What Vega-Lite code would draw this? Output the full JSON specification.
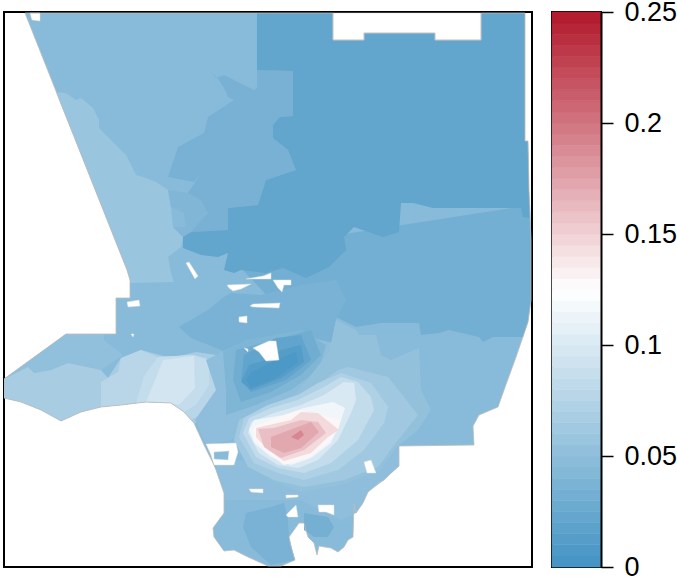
{"$schema":"https://vega.github.io/schema/vega-lite/v6.json","background":"white","padding":{"left":3,"top":-3,"right":0,"bottom":0},"spacing":17,"config":{"font":"Liberation Sans"},
"datasets":{
"zones":[
{"type":"Feature","properties":{"v":0.046},"geometry":{"type":"Polygon","coordinates":[[[24,13],[332,13],[332,40],[363,40],[363,33],[434,33],[434,40],[480,40],[480,13],[524,13],[524,141],[527,141],[528,190],[530,240],[530,300],[527,322],[515,357],[503,390],[497,407],[478,415],[472,426],[473,445],[398,446],[398,466],[390,473],[383,480],[377,483],[367,492],[362,503],[355,513],[353,503],[352,537],[347,540],[343,547],[337,552],[330,548],[318,546],[316,555],[313,543],[307,537],[303,523],[298,523],[288,537],[290,547],[294,560],[280,566],[267,566],[247,557],[233,550],[223,551],[213,537],[212,528],[223,513],[223,493],[215,470],[212,463],[203,445],[193,423],[183,412],[170,403],[145,402],[120,405],[100,407],[80,412],[60,421],[40,410],[20,402],[3,398],[3,379],[65,334],[115,334],[115,298],[129,298],[129,280],[126,270],[24,13]]]}},
{"type":"Feature","properties":{"v":0.058},"geometry":{"type":"Polygon","coordinates":[[[55,92],[65,93],[75,100],[80,98],[92,108],[98,120],[98,128],[110,140],[125,155],[135,175],[145,178],[155,182],[167,190],[170,207],[172,227],[182,237],[180,247],[167,257],[170,273],[173,282],[129,283],[129,280],[126,270],[55,92]]]}},
{"type":"Feature","properties":{"v":0.041},"geometry":{"type":"Polygon","coordinates":[[[167,190],[187,193],[200,200],[207,213],[190,232],[182,237],[172,227],[185,227],[183,213],[170,207],[167,190]]]}},
{"type":"Feature","properties":{"v":0.035},"geometry":{"type":"Polygon","coordinates":[[[210,72],[215,78],[223,75],[253,90],[256,88],[256,70],[292,71],[292,116],[279,117],[272,125],[272,138],[287,150],[295,170],[265,180],[257,205],[227,208],[227,230],[190,232],[207,213],[200,200],[187,193],[200,173],[193,182],[167,177],[177,147],[203,133],[207,117],[233,100],[227,97],[223,88],[218,80],[210,72]]]}},
{"type":"Feature","properties":{"v":0.032},"geometry":{"type":"Polygon","coordinates":[[[529,205],[530,240],[530,300],[527,322],[522,337],[492,337],[482,342],[478,337],[448,330],[438,333],[420,335],[418,323],[380,323],[355,327],[335,317],[330,345],[300,335],[270,300],[240,268],[305,240],[529,205]]]}},
{"type":"Feature","properties":{"v":0.036},"geometry":{"type":"Polygon","coordinates":[[[178,327],[207,310],[223,297],[230,293],[260,295],[300,285],[335,280],[345,300],[335,320],[330,345],[300,335],[240,345],[225,352],[208,345],[190,338],[178,327]]]}},
{"type":"Feature","properties":{"v":0.0205},"geometry":{"type":"Polygon","coordinates":[[[256,13],[524,13],[524,141],[527,141],[528,190],[529,218],[522,217],[520,208],[432,208],[412,203],[400,203],[398,232],[382,237],[353,227],[343,237],[345,250],[328,267],[305,278],[282,268],[265,273],[240,270],[233,273],[223,270],[227,253],[217,257],[200,255],[182,248],[182,237],[190,232],[227,230],[227,208],[257,205],[265,180],[295,170],[287,150],[272,138],[272,125],[279,117],[292,116],[292,71],[256,70],[256,13]]]}},
{"type":"Feature","properties":{"v":0.052},"geometry":{"type":"Polygon","coordinates":[[[3,379],[65,334],[103,334],[103,340],[122,355],[100,370],[67,363],[50,370],[33,373],[27,367],[3,379]]]}},
{"type":"Feature","properties":{"v":0.067},"geometry":{"type":"Polygon","coordinates":[[[3,398],[3,379],[27,367],[33,373],[50,370],[67,363],[100,370],[107,378],[120,358],[140,350],[170,358],[195,352],[215,355],[228,375],[220,420],[193,423],[183,412],[170,403],[145,402],[120,405],[100,407],[80,412],[60,421],[40,410],[20,402],[3,398]]]}},
{"type":"Feature","properties":{"v":0.078},"geometry":{"type":"Polygon","coordinates":[[[100,382],[117,372],[120,358],[140,350],[157,357],[192,355],[205,358],[215,375],[215,405],[190,420],[183,412],[170,403],[145,402],[120,405],[100,407],[100,382]]]}},
{"type":"Feature","properties":{"v":0.086},"geometry":{"type":"Polygon","coordinates":[[[143,376],[157,357],[192,355],[208,360],[208,385],[195,405],[183,412],[170,403],[145,402],[135,403],[143,376]]]}},
{"type":"Feature","properties":{"v":0.095},"geometry":{"type":"Polygon","coordinates":[[[152,385],[162,360],[193,356],[194,388],[178,405],[170,403],[145,402],[152,385]]]}},
{"type":"Feature","properties":{"v":0.05},"geometry":{"type":"Polygon","coordinates":[[[205,360],[235,345],[300,335],[340,345],[330,375],[300,395],[260,420],[230,440],[205,445],[194,420],[215,390],[205,360]]]}},
{"type":"Feature","properties":{"v":0.04},"geometry":{"type":"Polygon","coordinates":[[[222,352],[245,340],[300,330],[325,345],[318,370],[290,390],[255,405],[225,415],[225,390],[222,352]]]}},
{"type":"Feature","properties":{"v":0.03},"geometry":{"type":"Polygon","coordinates":[[[235,350],[310,330],[320,355],[300,375],[270,392],[240,402],[232,380],[235,350]]]}},
{"type":"Feature","properties":{"v":0.02},"geometry":{"type":"Polygon","coordinates":[[[243,355],[275,338],[300,335],[310,360],[285,380],[250,392],[240,380],[243,355]]]}},
{"type":"Feature","properties":{"v":0.012},"geometry":{"type":"Polygon","coordinates":[[[248,365],[265,360],[280,350],[300,345],[303,362],[280,378],[250,390],[240,382],[248,365]]]}},
{"type":"Feature","properties":{"v":0.006},"geometry":{"type":"Polygon","coordinates":[[[250,372],[280,358],[295,352],[297,362],[275,378],[250,388],[245,380],[250,372]]]}},
{"type":"Feature","properties":{"v":0.05},"geometry":{"type":"Polygon","coordinates":[[[214,462],[240,460],[300,490],[380,470],[398,446],[398,466],[383,480],[367,492],[355,513],[340,520],[300,500],[225,500],[214,462]]]}},
{"type":"Feature","properties":{"v":0.036},"geometry":{"type":"Polygon","coordinates":[[[245,513],[270,507],[283,503],[287,520],[288,537],[294,560],[270,565],[250,547],[242,527],[245,513]]]}},
{"type":"Feature","properties":{"v":0.033},"geometry":{"type":"Polygon","coordinates":[[[303,513],[327,517],[333,527],[327,537],[313,537],[303,530],[303,513]]]}},
{"type":"Feature","properties":{"v":0.053},"geometry":{"type":"Polygon","coordinates":[[[328,352],[335,320],[355,330],[358,335],[375,335],[380,355],[390,360],[418,348],[420,390],[430,410],[417,430],[397,446],[380,470],[340,485],[300,492],[270,480],[290,400],[328,352]]]}},
{"type":"Feature","properties":{"v":0.062},"geometry":{"type":"Polygon","coordinates":[[[337,370],[347,367],[387,377],[403,397],[417,415],[397,440],[377,467],[343,480],[303,487],[273,480],[247,467],[233,440],[238,420],[263,407],[290,397],[310,390],[337,370]]]}},
{"type":"Feature","properties":{"v":0.072},"geometry":{"type":"Polygon","coordinates":[[[340,373],[370,383],[387,407],[383,423],[363,450],[337,470],[303,480],[277,473],[253,463],[238,437],[243,418],[267,405],[297,395],[317,383],[340,373]]]}},
{"type":"Feature","properties":{"v":0.085},"geometry":{"type":"Polygon","coordinates":[[[340,377],[357,382],[370,397],[373,410],[357,440],[330,463],[303,473],[277,468],[255,457],[242,433],[248,418],[270,408],[297,400],[323,387],[340,377]]]}},
{"type":"Feature","properties":{"v":0.1},"geometry":{"type":"Polygon","coordinates":[[[343,382],[353,383],[355,400],[350,413],[337,440],[317,460],[297,468],[277,465],[258,453],[247,433],[250,422],[273,413],[300,405],[323,395],[343,382]]]}},
{"type":"Feature","properties":{"v":0.115},"geometry":{"type":"Polygon","coordinates":[[[332,402],[344,408],[340,420],[330,443],[310,458],[290,465],[270,457],[253,443],[248,430],[253,420],[283,415],[303,408],[332,402]]]}},
{"type":"Feature","properties":{"v":0.13},"geometry":{"type":"Polygon","coordinates":[[[252,427],[283,415],[300,410],[340,420],[337,430],[327,443],[307,458],[283,465],[267,453],[253,440],[252,427]]]}},
{"type":"Feature","properties":{"v":0.145},"geometry":{"type":"Polygon","coordinates":[[[255,428],[290,420],[300,412],[317,413],[338,430],[327,437],[310,453],[283,461],[267,450],[255,437],[255,428]]]}},
{"type":"Feature","properties":{"v":0.16},"geometry":{"type":"Polygon","coordinates":[[[257,429],[273,428],[300,420],[317,422],[325,433],[303,450],[280,458],[263,447],[257,429]]]}},
{"type":"Feature","properties":{"v":0.172},"geometry":{"type":"Polygon","coordinates":[[[270,437],[283,432],[310,422],[318,432],[300,448],[283,453],[270,447],[270,437]]]}},
{"type":"Feature","properties":{"v":0.19},"geometry":{"type":"Polygon","coordinates":[[[290,437],[300,430],[303,435],[297,440],[290,437]]]}}
],
"holes":[
{"type":"Feature","geometry":{"type":"Polygon","coordinates":[[[332,13],[480,13],[480,40],[434,40],[434,33],[363,33],[363,40],[332,40],[332,13]]]}},
{"type":"Feature","geometry":{"type":"Polygon","coordinates":[[[29,13],[39,13],[39,21],[31,20],[29,13]]]}},
{"type":"Feature","geometry":{"type":"Polygon","coordinates":[[[185,263],[188,262],[197,276],[194,279],[185,263]]]}},
{"type":"Feature","geometry":{"type":"Polygon","coordinates":[[[126,302],[138,300],[139,306],[127,307],[126,302]]]}},
{"type":"Feature","geometry":{"type":"Polygon","coordinates":[[[130,334],[133,334],[132,337],[130,334]]]}},
{"type":"Feature","geometry":{"type":"Polygon","coordinates":[[[226,285],[250,284],[240,289],[232,291],[228,288],[226,285]]]}},
{"type":"Feature","geometry":{"type":"Polygon","coordinates":[[[245,279],[262,276],[270,273],[270,279],[245,279]]]}},
{"type":"Feature","geometry":{"type":"Polygon","coordinates":[[[272,280],[290,280],[290,285],[283,285],[281,292],[277,288],[272,280]]]}},
{"type":"Feature","geometry":{"type":"Polygon","coordinates":[[[249,306],[252,304],[279,303],[278,308],[252,307],[249,306]]]}},
{"type":"Feature","geometry":{"type":"Polygon","coordinates":[[[238,317],[246,316],[246,323],[238,322],[238,317]]]}},
{"type":"Feature","geometry":{"type":"Polygon","coordinates":[[[252,348],[268,341],[275,341],[278,360],[265,361],[258,352],[252,348]]]}},
{"type":"Feature","geometry":{"type":"Polygon","coordinates":[[[243,348],[247,349],[247,352],[243,348]]]}},
{"type":"Feature","geometry":{"type":"Polygon","coordinates":[[[248,489],[262,489],[262,493],[250,492],[248,489]]]}},
{"type":"Feature","geometry":{"type":"Polygon","coordinates":[[[285,495],[297,495],[297,497],[285,498],[285,495]]]}},
{"type":"Feature","geometry":{"type":"Polygon","coordinates":[[[285,515],[295,505],[297,517],[287,517],[285,515]]]}},
{"type":"Feature","geometry":{"type":"Polygon","coordinates":[[[317,505],[333,505],[333,515],[325,512],[318,512],[317,505]]]}},
{"type":"Feature","geometry":{"type":"Polygon","coordinates":[[[363,462],[370,460],[375,473],[366,473],[363,462]]]}},
{"type":"Feature","geometry":{"type":"Polygon","coordinates":[[[205,444],[235,443],[237,452],[233,465],[213,465],[210,455],[205,444]],[[213,452],[213,459],[227,460],[228,451],[213,452]]]}}
],
"outline":[
{"type":"Feature","geometry":{"type":"Polygon","coordinates":[[[24,13],[332,13],[332,40],[363,40],[363,33],[434,33],[434,40],[480,40],[480,13],[524,13],[524,141],[527,141],[528,190],[530,240],[530,300],[527,322],[515,357],[503,390],[497,407],[478,415],[472,426],[473,445],[398,446],[398,466],[390,473],[383,480],[377,483],[367,492],[362,503],[355,513],[353,503],[352,537],[347,540],[343,547],[337,552],[330,548],[318,546],[316,555],[313,543],[307,537],[303,523],[298,523],[288,537],[290,547],[294,560],[280,566],[267,566],[247,557],[233,550],[223,551],[213,537],[212,528],[223,513],[223,493],[215,470],[212,463],[203,445],[193,423],[183,412],[170,403],[145,402],[120,405],[100,407],[80,412],[60,421],[40,410],[20,402],[3,398],[3,379],[65,334],[115,334],[115,298],[129,298],[129,280],[126,270],[24,13]]]}}
],
"bar":[
{"a":0,"b":0.005,"v":0.0025},{"a":0.005,"b":0.01,"v":0.0075},{"a":0.01,"b":0.015,"v":0.0125},{"a":0.015,"b":0.02,"v":0.0175},{"a":0.02,"b":0.025,"v":0.0225},{"a":0.025,"b":0.03,"v":0.0275},{"a":0.03,"b":0.035,"v":0.0325},{"a":0.035,"b":0.04,"v":0.0375},{"a":0.04,"b":0.045,"v":0.0425},{"a":0.045,"b":0.05,"v":0.0475},
{"a":0.05,"b":0.055,"v":0.0525},{"a":0.055,"b":0.06,"v":0.0575},{"a":0.06,"b":0.065,"v":0.0625},{"a":0.065,"b":0.07,"v":0.0675},{"a":0.07,"b":0.075,"v":0.0725},{"a":0.075,"b":0.08,"v":0.0775},{"a":0.08,"b":0.085,"v":0.0825},{"a":0.085,"b":0.09,"v":0.0875},{"a":0.09,"b":0.095,"v":0.0925},{"a":0.095,"b":0.1,"v":0.0975},
{"a":0.1,"b":0.105,"v":0.1025},{"a":0.105,"b":0.11,"v":0.1075},{"a":0.11,"b":0.115,"v":0.1125},{"a":0.115,"b":0.12,"v":0.1175},{"a":0.12,"b":0.125,"v":0.1225},{"a":0.125,"b":0.13,"v":0.1275},{"a":0.13,"b":0.135,"v":0.1325},{"a":0.135,"b":0.14,"v":0.1375},{"a":0.14,"b":0.145,"v":0.1425},{"a":0.145,"b":0.15,"v":0.1475},
{"a":0.15,"b":0.155,"v":0.1525},{"a":0.155,"b":0.16,"v":0.1575},{"a":0.16,"b":0.165,"v":0.1625},{"a":0.165,"b":0.17,"v":0.1675},{"a":0.17,"b":0.175,"v":0.1725},{"a":0.175,"b":0.18,"v":0.1775},{"a":0.18,"b":0.185,"v":0.1825},{"a":0.185,"b":0.19,"v":0.1875},{"a":0.19,"b":0.195,"v":0.1925},{"a":0.195,"b":0.2,"v":0.1975},
{"a":0.2,"b":0.205,"v":0.2025},{"a":0.205,"b":0.21,"v":0.2075},{"a":0.21,"b":0.215,"v":0.2125},{"a":0.215,"b":0.22,"v":0.2175},{"a":0.22,"b":0.225,"v":0.2225},{"a":0.225,"b":0.23,"v":0.2275},{"a":0.23,"b":0.235,"v":0.2325},{"a":0.235,"b":0.24,"v":0.2375},{"a":0.24,"b":0.245,"v":0.2425},{"a":0.245,"b":0.25,"v":0.2475}
]},
"hconcat":[
{"width":528,"height":555,"view":{"stroke":"black","strokeWidth":2},"projection":{"type":"identity","scale":1,"translate":[-3,-12]},
"layer":[
{"data":{"name":"zones"},"mark":{"type":"geoshape","strokeWidth":0},"encoding":{"color":{"field":"properties.v","type":"quantitative","scale":{"domain":[0,0.125,0.25],"range":["#4393c3","#ffffff","#b2182b"],"interpolate":"rgb"},"legend":null}}},
{"data":{"name":"holes"},"mark":{"type":"geoshape","fill":"white","stroke":"#dddddd","strokeWidth":0.5}},
{"data":{"name":"outline"},"mark":{"type":"geoshape","fill":null,"filled":false,"stroke":"#bbbbbb","strokeWidth":0.8}}
]},
{"width":49,"height":555,"view":{"stroke":"black","strokeWidth":2},"data":{"name":"bar"},"mark":{"type":"rect","strokeWidth":0.6},
"encoding":{
"y":{"field":"a","type":"quantitative","scale":{"domain":[0,0.25],"nice":false},"axis":{"orient":"right","zindex":1,"values":[0,0.05,0.1,0.15,0.2,0.25],"format":"~g","title":null,"grid":false,"tickSize":12,"tickWidth":1.5,"tickColor":"black","domainColor":"black","domainWidth":2,"labelFontSize":27,"labelColor":"black","labelPadding":11,"labelFont":"Liberation Sans"}},
"y2":{"field":"b"},
"color":{"field":"v","type":"quantitative","scale":{"domain":[0,0.125,0.25],"range":["#4393c3","#ffffff","#b2182b"],"interpolate":"rgb"},"legend":null},
"stroke":{"field":"v","type":"quantitative","scale":{"domain":[0,0.125,0.25],"range":["#4393c3","#ffffff","#b2182b"],"interpolate":"rgb"},"legend":null}}}
]}
